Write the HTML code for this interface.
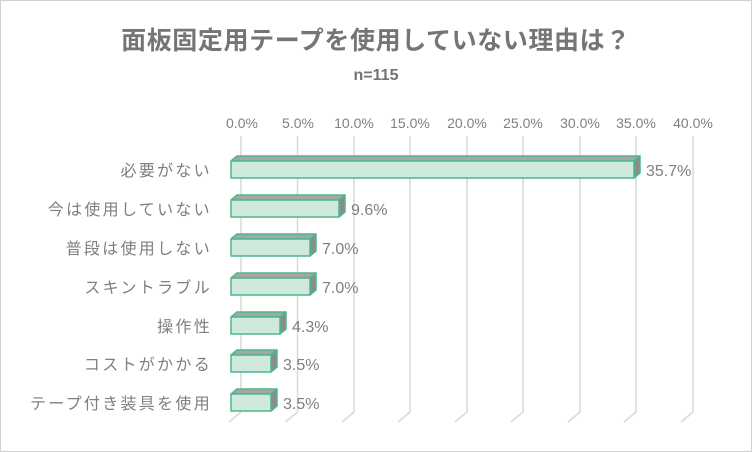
<!DOCTYPE html>
<html><head><meta charset="utf-8"><style>
body{margin:0;background:#fff}
svg{display:block}
text{font-family:"Liberation Sans","Noto Sans CJK JP",sans-serif;fill:#7f7f7f}
</style></head><body>
<svg width="752" height="452" viewBox="0 0 752 452">
<rect x="0.5" y="0.5" width="751" height="451" fill="#fff" stroke="#d0d0d0"/>
<text x="376" y="49" text-anchor="middle" font-size="25" font-weight="bold" letter-spacing="0.6" style="fill:#757575">面板固定用テープを使用していない理由は？</text>
<text x="376" y="80" text-anchor="middle" font-size="16" font-weight="bold" style="fill:#737373">n=115</text>
<g font-size="14" text-anchor="middle">
<text x="242" y="128">0.0%</text><text x="298" y="128">5.0%</text><text x="354" y="128">10.0%</text><text x="410" y="128">15.0%</text><text x="467" y="128">20.0%</text><text x="523" y="128">25.0%</text><text x="580" y="128">30.0%</text><text x="636" y="128">35.0%</text><text x="693" y="128">40.0%</text>
</g>
<g stroke="#d9d9d9" stroke-width="1.5" fill="none">
<path d="M241 136V412L229 422"/><path d="M297.5 136V412L285.5 422"/><path d="M354 136V412L342 422"/><path d="M410 136V412L398 422"/><path d="M467 136V412L455 422"/><path d="M523 136V412L511 422"/><path d="M580 136V412L568 422"/><path d="M636 136V412L624 422"/><path d="M693 136V412L681 422"/>
</g>
<g font-size="16" text-anchor="end" letter-spacing="2.3">
<text x="212" y="176">必要がない</text>
<text x="212" y="215">今は使用していない</text>
<text x="212" y="254">普段は使用しない</text>
<text x="212" y="293">スキントラブル</text>
<text x="212" y="332">操作性</text>
<text x="212" y="370">コストがかかる</text>
<text x="212" y="409">テープ付き装具を使用</text>
</g>
<g stroke="#4cb88a" stroke-width="1.5" stroke-linejoin="round">
<path d="M231 161l6-5h403l-6 5z" fill="#a6a6a6"/><path d="M634 161l6-5v17l-6 5z" fill="#8c8c8c"/><rect x="231" y="161" width="403" height="17" fill="#cfe9dc"/>
<path d="M231 200l6-5h108l-6 5z" fill="#a6a6a6"/><path d="M339 200l6-5v17l-6 5z" fill="#8c8c8c"/><rect x="231" y="200" width="108" height="17" fill="#cfe9dc"/>
<path d="M231 239l6-5h79l-6 5z" fill="#a6a6a6"/><path d="M310 239l6-5v17l-6 5z" fill="#8c8c8c"/><rect x="231" y="239" width="79" height="17" fill="#cfe9dc"/>
<path d="M231 278l6-5h79l-6 5z" fill="#a6a6a6"/><path d="M310 278l6-5v17l-6 5z" fill="#8c8c8c"/><rect x="231" y="278" width="79" height="17" fill="#cfe9dc"/>
<path d="M231 317l6-5h49l-6 5z" fill="#a6a6a6"/><path d="M280 317l6-5v17l-6 5z" fill="#8c8c8c"/><rect x="231" y="317" width="49" height="17" fill="#cfe9dc"/>
<path d="M231 355l6-5h40l-6 5z" fill="#a6a6a6"/><path d="M271 355l6-5v17l-6 5z" fill="#8c8c8c"/><rect x="231" y="355" width="40" height="17" fill="#cfe9dc"/>
<path d="M231 394l6-5h40l-6 5z" fill="#a6a6a6"/><path d="M271 394l6-5v17l-6 5z" fill="#8c8c8c"/><rect x="231" y="394" width="40" height="17" fill="#cfe9dc"/>
</g>
<g font-size="16">
<text x="646" y="176">35.7%</text>
<text x="351" y="215">9.6%</text>
<text x="322" y="254">7.0%</text>
<text x="322" y="293">7.0%</text>
<text x="292" y="332">4.3%</text>
<text x="283" y="370">3.5%</text>
<text x="283" y="409">3.5%</text>
</g>
</svg>
</body></html>
